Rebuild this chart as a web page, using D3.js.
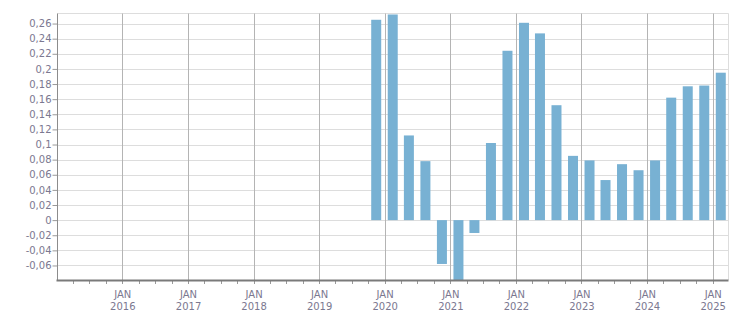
<!DOCTYPE html>
<html><head><meta charset="utf-8">
<script src="https://cdn.jsdelivr.net/npm/d3@7"></script>
<style>
html,body{margin:0;padding:0;background:#fff;}
svg{display:block;}
text{font-family:"DejaVu Sans",Verdana,sans-serif;font-size:10px;fill:#7b7890;}
</style></head>
<body>
<svg id="chart" width="751" height="313"></svg>
<script>
// ---- data ----
const quarters = ["2019-Q4","2020-Q1","2020-Q2","2020-Q3","2020-Q4","2021-Q1","2021-Q2","2021-Q3","2021-Q4",
  "2022-Q1","2022-Q2","2022-Q3","2022-Q4","2023-Q1","2023-Q2","2023-Q3","2023-Q4","2024-Q1","2024-Q2",
  "2024-Q3","2024-Q4","2025-Q1"];
const values = [0.265,0.272,0.112,0.078,-0.058,-0.09,-0.017,0.102,0.224,0.261,0.247,0.152,0.085,0.079,
  0.053,0.074,0.066,0.079,0.162,0.177,0.178,0.195];
const yTicks = [-0.06,-0.04,-0.02,0,0.02,0.04,0.06,0.08,0.1,0.12,0.14,0.16,0.18,0.2,0.22,0.24,0.26];
const xYears = [2016,2017,2018,2019,2020,2021,2022,2023,2024,2025];
const monthLabel = "JAN";

// ---- layout ----
const svg = d3.select("#chart");
const L = 57.5, R = 728.5, T = 13.5, B = 280;
const x = d3.scaleTime().domain([new Date(2015,0,5), new Date(2025,2,30)]).range([L, R]);
const y = d3.scaleLinear().domain([-0.0792, 0.2733]).range([B, T]);

const loc = d3.formatLocale({decimal:",", thousands:".", grouping:[3], currency:["",""], minus:"-"});
const fmt = loc.format(".2~f");

function qDate(q){ const yr=+q.slice(0,4), n=+q.slice(6); return new Date(yr,(n-1)*3+1,15); }

// horizontal grid
svg.append("g").selectAll("line").data(yTicks).join("line")
  .attr("x1",L).attr("x2",R).attr("y1",d=>Math.round(y(d))+0.5).attr("y2",d=>Math.round(y(d))+0.5)
  .attr("stroke","#dddddd").attr("stroke-width",1);
// top / right border
svg.append("line").attr("x1",L).attr("x2",R).attr("y1",T).attr("y2",T).attr("stroke","#dddddd");
svg.append("line").attr("x1",R).attr("x2",R).attr("y1",T).attr("y2",B).attr("stroke","#dddddd");

// year grid
const janDates = xYears.map(yr=>new Date(yr,0,1));
svg.append("g").selectAll("line").data(janDates).join("line")
  .attr("x1",d=>Math.round(x(d))+0.5).attr("x2",d=>Math.round(x(d))+0.5).attr("y1",T).attr("y2",B+3)
  .attr("stroke","#b4b4b4");

// bars
svg.append("clipPath").attr("id","clip").append("rect").attr("x",L).attr("y",T).attr("width",R-L).attr("height",B-T);
const bw = 10;
svg.append("g").attr("clip-path","url(#clip)").selectAll("rect").data(quarters).join("rect")
  .attr("x",(q)=>x(qDate(q))-bw/2)
  .attr("width",bw)
  .attr("y",(q,i)=>y(Math.max(0,values[i])))
  .attr("height",(q,i)=>Math.abs(y(values[i])-y(0)))
  .attr("fill","#78b1d3");

// y axis
const yAxis = svg.append("g").attr("transform",`translate(${L},0)`)
  .call(d3.axisLeft(y).tickValues(yTicks).tickFormat(fmt).tickSize(5).tickPadding(1));
yAxis.select(".domain").remove();
yAxis.selectAll(".tick line").attr("stroke","#999");
yAxis.selectAll("text").attr("fill",null).style("font-size","10px");
svg.append("line").attr("x1",L).attr("x2",L).attr("y1",T).attr("y2",B).attr("stroke","#8c8c8c");

// x quarterly ticks
const qTicks = d3.timeMonth.every(3).range(new Date(2015,3,1), new Date(2025,3,1));
svg.append("g").selectAll("line").data(qTicks).join("line")
  .attr("x1",d=>Math.round(x(d))+0.5).attr("x2",d=>Math.round(x(d))+0.5).attr("y1",B).attr("y2",B+4)
  .attr("stroke","#999");
// bottom axis line
svg.append("line").attr("x1",L-1).attr("x2",R).attr("y1",B+0.5).attr("y2",B+0.5).attr("stroke","#7a7a7a").attr("stroke-width",2.2);

// x labels
const xl = svg.append("g").selectAll("text").data(janDates).join("text")
  .attr("text-anchor","middle").attr("x",d=>x(d)+0.5);
xl.append("tspan").attr("x",d=>x(d)+0.5).attr("y",298).text(monthLabel);
xl.append("tspan").attr("x",d=>x(d)+0.5).attr("y",310).text(d=>d.getFullYear());
</script>
</body></html>
